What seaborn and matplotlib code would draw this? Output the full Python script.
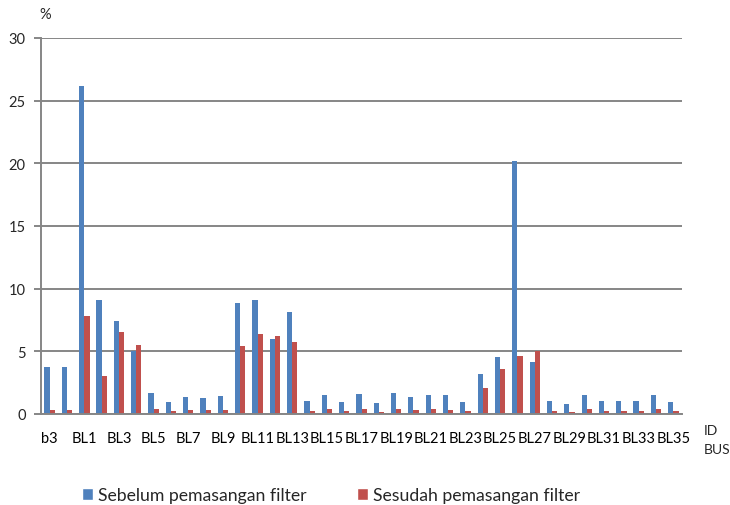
import matplotlib
matplotlib.use("Agg")
import matplotlib.pyplot as plt
import seaborn as sns
import pandas as pd
from matplotlib.patches import Patch

# bus ids (second one is not labelled on the chart)
buses = ["b3", "b4"] + ["BL%d" % i for i in range(1, 36)]

sebelum = [3.73, 3.73, 26.2, 9.1, 7.4, 5.0, 1.7, 0.98, 1.38, 1.25,
           1.46, 8.83, 9.12, 5.99, 8.15, 1.04, 1.54, 0.96, 1.57, 0.88,
           1.68, 1.38, 1.52, 1.52, 0.96, 3.19, 4.52, 20.16, 4.12, 1.01,
           0.77, 1.49, 1.04, 1.04, 1.04, 1.52, 0.96]
sesudah = [0.35, 0.35, 7.85, 3.03, 6.52, 5.53, 0.4, 0.24, 0.32, 0.29,
           0.35, 5.4, 6.38, 6.25, 5.75, 0.24, 0.37, 0.21, 0.37, 0.16,
           0.4, 0.32, 0.37, 0.32, 0.21, 2.05, 3.56, 4.63, 5.0, 0.21,
           0.16, 0.37, 0.24, 0.21, 0.21, 0.37, 0.24]

series = ["Sebelum pemasangan filter", "Sesudah pemasangan filter"]
colors = ["#4F81BD", "#C0504D"]

df = pd.DataFrame({
    "bus": buses * 2,
    "nilai": sebelum + sesudah,
    "kondisi": [series[0]] * len(buses) + [series[1]] * len(buses),
})

sns.set_theme(style="white")
plt.rcParams["font.family"] = ["Lato", "DejaVu Sans"]

fig = plt.figure(figsize=(7.3, 5.06), dpi=100)
ax = fig.add_axes([41 / 730, 1 - 415 / 506, (682 - 41) / 730, (415 - 39) / 506])

sns.barplot(data=df, x="bus", y="nilai", hue="kondisi", hue_order=series,
            palette=colors, saturation=1, width=0.6, linewidth=0, ax=ax, legend=False)

ax.set_xlim(-0.5, len(buses) - 0.5)
ax.set_ylim(0, 30)
ax.set_yticks(range(0, 31, 5))
ax.yaxis.grid(True, color="#868686", linewidth=1.4)
ax.set_axisbelow(True)

ax.set_xticks(range(0, len(buses), 2))
ax.set_xticklabels(buses[::2])
ax.set_xticks([i - 0.5 for i in range(len(buses) + 1)], minor=True)
ax.tick_params(axis="x", which="major", length=0, pad=12, labelsize=10.5, colors="black")
ax.tick_params(axis="x", which="minor", length=5, width=1.4, color="#868686", direction="out")
ax.tick_params(axis="y", length=5, width=1.4, color="#868686", labelsize=10.5, pad=6, direction="out")
ax.tick_params(axis="both", bottom=True, left=True)

for s in ["top", "right"]:
    ax.spines[s].set_visible(False)
for s in ["left", "bottom"]:
    ax.spines[s].set_color("#868686")
    ax.spines[s].set_linewidth(1.4)

ax.set_xlabel("")
ax.set_ylabel("")
fig.text(45 / 730, 1 - 15 / 506, "%", fontsize=10.5, ha="center", va="center")
fig.text(704 / 730, 1 - 441 / 506, "ID\nBUS", fontsize=10, ha="left", va="center", linespacing=1.7)

handles = [Patch(facecolor=c, label=l) for c, l in zip(colors, series)]
fig.legend(handles=handles, loc="center", bbox_to_anchor=(331 / 730, 1 - 496 / 506),
           ncol=2, frameon=False, fontsize=12.7, handlelength=0.62, handleheight=0.62,
           columnspacing=2.9, handletextpad=0.25, borderpad=0, borderaxespad=0)

fig.savefig("out.png", dpi=100)
